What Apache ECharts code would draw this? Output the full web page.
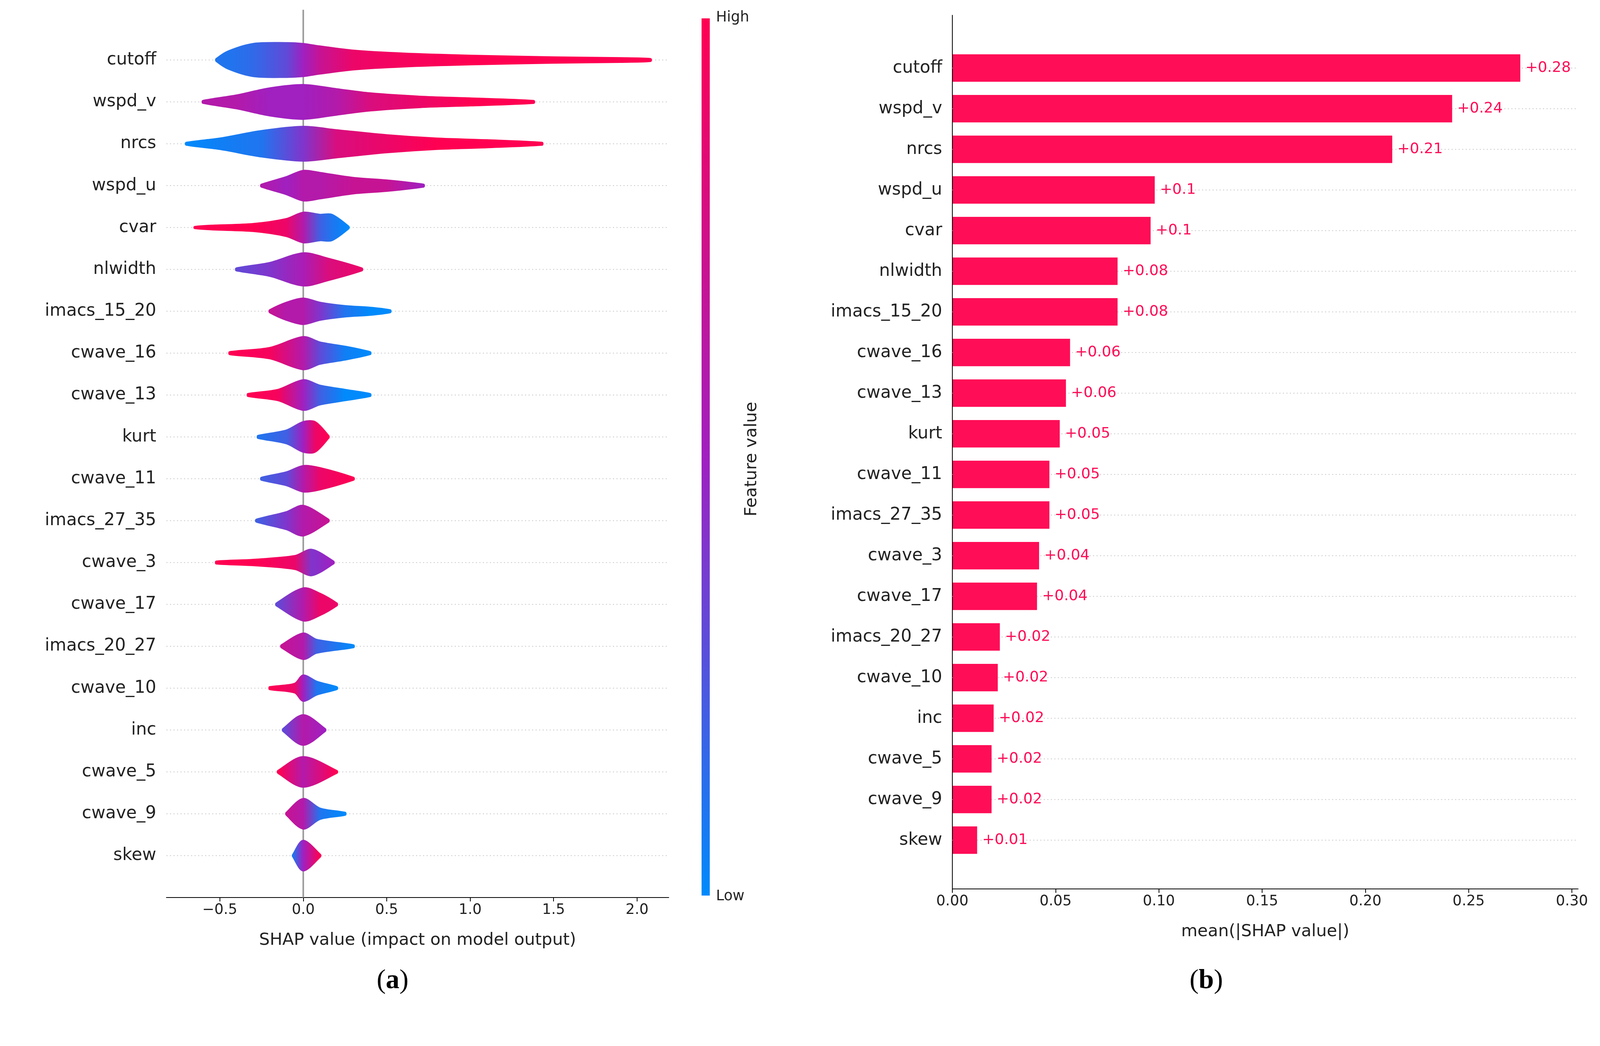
<!DOCTYPE html>
<html>
<head>
<meta charset="utf-8">
<script src="https://cdn.jsdelivr.net/npm/echarts@6/dist/echarts.min.js"></script>
<style>html,body{margin:0;padding:0;background:#fff;overflow:hidden}#chart{width:4257px;height:2677px}</style>
</head>
<body>
<div id="chart"></div>
<script>
// features, top to bottom
var features = ['cutoff','wspd_v','nrcs','wspd_u','cvar','nlwidth','imacs_15_20','cwave_16','cwave_13','kurt',
	'cwave_11','imacs_27_35','cwave_3','cwave_17','imacs_20_27','cwave_10','inc','cwave_5','cwave_9','skew'];
// mean |SHAP| per feature
var meanShap = [0.275,0.242,0.213,0.098,0.096,0.080,0.080,0.057,0.055,0.052,0.047,0.047,0.042,0.041,0.023,0.022,0.020,0.019,0.019,0.012];
var meanLabels = ['+0.28','+0.24','+0.21','+0.1','+0.1','+0.08','+0.08','+0.06','+0.06','+0.05','+0.05','+0.05','+0.04','+0.04','+0.02','+0.02','+0.02','+0.02','+0.02','+0.01'];
// swarm outline per feature: [shap value, half thickness (rows), feature value 0=low 1=high]
var swarms = [
	[[-0.52,0.02,0.1],[-0.45,0.2,0.1],[-0.3,0.38,0.15],[-0.1,0.4,0.3],[0.0,0.38,0.5],[0.1,0.32,0.7],[0.3,0.22,0.9],[0.6,0.15,0.95],[1.0,0.1,1],[1.5,0.06,1],[1.9,0.04,1],[2.08,0.02,1]],
	[[-0.6,0.02,0.6],[-0.4,0.15,0.6],[-0.2,0.32,0.5],[0,0.4,0.5],[0.2,0.3,0.6],[0.4,0.2,0.8],[0.7,0.12,0.9],[1.0,0.08,1],[1.38,0.02,1]],
	[[-0.7,0.02,0],[-0.5,0.12,0.05],[-0.25,0.3,0.1],[0,0.4,0.4],[0.2,0.32,0.8],[0.5,0.2,0.9],[0.8,0.12,1],[1.1,0.08,1],[1.43,0.02,1]],
	[[-0.25,0.02,0.6],[-0.1,0.2,0.5],[0,0.35,0.6],[0.1,0.3,0.6],[0.3,0.18,0.7],[0.5,0.12,0.7],[0.72,0.02,0.5]],
	[[-0.65,0.01,1],[-0.55,0.04,1],[-0.3,0.08,1],[-0.1,0.2,0.9],[0,0.35,0.6],[0.1,0.3,0.2],[0.17,0.3,0.1],[0.27,0.02,0]],
	[[-0.4,0.02,0.3],[-0.2,0.15,0.4],[0,0.38,0.55],[0.15,0.25,0.8],[0.35,0.02,0.9]],
	[[-0.2,0.02,0.7],[-0.1,0.2,0.6],[0,0.3,0.6],[0.1,0.2,0.4],[0.25,0.12,0.1],[0.4,0.08,0],[0.52,0.02,0]],
	[[-0.44,0.02,1],[-0.2,0.12,0.95],[0,0.38,0.6],[0.1,0.25,0.3],[0.25,0.15,0.05],[0.4,0.02,0]],
	[[-0.33,0.02,1],[-0.15,0.12,0.95],[0,0.35,0.5],[0.1,0.22,0.2],[0.25,0.12,0],[0.4,0.02,0]],
	[[-0.27,0.02,0.1],[-0.1,0.15,0.2],[0,0.35,0.5],[0.07,0.35,0.9],[0.15,0.02,1]],
	[[-0.25,0.02,0.2],[-0.1,0.15,0.3],[0,0.3,0.6],[0.1,0.25,0.9],[0.3,0.02,1]],
	[[-0.28,0.02,0.2],[-0.1,0.2,0.4],[0,0.35,0.6],[0.15,0.02,0.7]],
	[[-0.52,0.02,1],[-0.3,0.06,1],[-0.05,0.15,0.9],[0.05,0.3,0.4],[0.18,0.02,0.5]],
	[[-0.16,0.02,0.3],[0,0.38,0.6],[0.1,0.25,0.9],[0.2,0.02,0.9]],
	[[-0.13,0.02,0.7],[0,0.3,0.6],[0.08,0.15,0.2],[0.3,0.02,0]],
	[[-0.2,0.02,1],[-0.05,0.1,0.9],[0,0.3,0.5],[0.08,0.15,0.1],[0.2,0.02,0]],
	[[-0.12,0.02,0.3],[0,0.35,0.6],[0.13,0.02,0.5]],
	[[-0.15,0.02,1],[0,0.35,0.6],[0.2,0.02,1]],
	[[-0.1,0.02,0.7],[0,0.35,0.6],[0.1,0.12,0.1],[0.25,0.02,0]],
	[[-0.06,0.02,0.1],[0,0.35,0.5],[0.1,0.02,1]]
];
var shapTicks = [-0.5,0,0.5,1,1.5,2];

var LOW=[0,138,251], MID=[160,32,192], HIGH=[255,0,82];
function cmap(t){
	var a=t<0.5?LOW:MID, b=t<0.5?MID:HIGH, f=t<0.5?t*2:(t-0.5)*2;
	return 'rgb('+[0,1,2].map(function(k){return Math.round(a[k]+(b[k]-a[k])*f);}).join(',')+')';
}
var N = features.length;
var font = 'DejaVu Sans';
var chart = echarts.init(document.getElementById('chart'));

function rowLines(api, x0, x1){
	var out=[];
	for(var i=0;i<N;i++){
		var a=api.coord([x0,N-1-i]), b=api.coord([x1,N-1-i]);
		out.push({type:'line',shape:{x1:a[0],y1:a[1],x2:b[0],y2:b[1]},
			style:{stroke:'#cccccc',lineWidth:2,lineDash:[3,6]},silent:true});
	}
	return out;
}

var option = {
	animation:false,
	grid:[
		{left:426,top:25,width:1286,height:2272},
		{left:2438,top:39,width:1602,height:2236}
	],
	xAxis:[
		{gridIndex:0,type:'value',min:-0.82,max:2.19,interval:0.5,
			axisLine:{onZero:false,lineStyle:{color:'#000',width:2}},
			splitLine:{show:false},showMinLabel:false,showMaxLabel:false,
			axisLabel:{fontFamily:font,fontSize:37,color:'#222',margin:14,
				customValues:shapTicks,formatter:function(v){return (v<0?'\u2212':'')+Math.abs(v).toFixed(1);}},
			axisTick:{customValues:shapTicks,length:10,lineStyle:{color:'#000',width:2}},
			name:'SHAP value (impact on model output)',nameLocation:'middle',nameGap:88,
			nameTextStyle:{fontFamily:font,fontSize:43,color:'#222'}},
		{gridIndex:1,type:'value',min:0,max:0.303,interval:0.05,
			axisLine:{onZero:false,lineStyle:{color:'#000',width:2}},axisTick:{length:10,lineStyle:{color:'#000',width:2}},
			splitLine:{show:false},showMaxLabel:false,
			axisLabel:{fontFamily:font,fontSize:37,color:'#222',margin:14,formatter:function(v){return v.toFixed(2);}},
			name:'mean(|SHAP value|)',nameLocation:'middle',nameGap:88,
			nameTextStyle:{fontFamily:font,fontSize:43,color:'#222'}}
	],
	yAxis:[
		{gridIndex:0,type:'value',min:-1,max:20.2,interval:1,axisLine:{show:false},axisTick:{show:false},
			splitLine:{show:false},showMaxLabel:false,
			axisLabel:{fontFamily:font,fontSize:44,color:'#222',margin:26,
				formatter:function(v){var i=N-1-v;return (i>=0&&i<N&&v===Math.round(v))?features[i]:'';}}},
		{gridIndex:1,type:'value',min:-1.2,max:20.3,interval:1,axisLine:{show:true,onZero:false,lineStyle:{color:'#000',width:2}},
			axisTick:{show:false},splitLine:{show:false},showMaxLabel:false,showMinLabel:false,
			axisLabel:{fontFamily:font,fontSize:44,color:'#222',margin:26,
				customValues:features.map(function(f,i){return N-1-i;}),
				formatter:function(v){var i=N-1-v;return (i>=0&&i<N)?features[i]:'';}}}
	],
	series:[
		{ // beeswarm outlines
			type:'custom',xAxisIndex:0,yAxisIndex:0,clip:false,
			data:features.map(function(f,i){return [i];}),
			renderItem:function(params,api){
				var i=params.dataIndex, prof=swarms[i], y=N-1-i, kids=[];
				if(i===0){
					kids=kids.concat(rowLines(api,-0.82,2.19));
					var t=api.coord([0,20.2]), b=api.coord([0,-1]);
					kids.push({type:'line',shape:{x1:t[0],y1:t[1],x2:b[0],y2:b[1]},style:{stroke:'#999',lineWidth:4},z2:5});
				}
				var up=[],lo=[];
				prof.forEach(function(p){up.push(api.coord([p[0],y+p[1]]));lo.unshift(api.coord([p[0],y-p[1]]));});
				var x0=prof[0][0], x1=prof[prof.length-1][0];
				var stops=prof.map(function(p){return {offset:(p[0]-x0)/(x1-x0),color:cmap(p[2])};});
				var a=api.coord([x0,y]), c=api.coord([x1,y]);
				kids.push({type:'polygon',shape:{points:up.concat(lo),smooth:0.3},z2:10,
					style:{fill:new echarts.graphic.LinearGradient(a[0],0,c[0],0,stops,true),
						stroke:new echarts.graphic.LinearGradient(a[0],0,c[0],0,stops,true),lineWidth:6}});
				return {type:'group',children:kids};
			}
		},
		{ // mean |SHAP| bars
			type:'custom',xAxisIndex:1,yAxisIndex:1,clip:false,
			data:meanShap.map(function(v,i){return [v,N-1-i];}),
			renderItem:function(params,api){
				var i=params.dataIndex, v=api.value(0), y=api.value(1), kids=[];
				if(i===0) kids=kids.concat(rowLines(api,0,0.303));
				var p0=api.coord([0,y+0.3375]), p1=api.coord([v,y-0.3375]);
				kids.push({type:'rect',shape:{x:p0[0]+1,y:p0[1],width:p1[0]-p0[0]-1,height:p1[1]-p0[1]},style:{fill:'#ff0d57'},z2:10});
				var m=api.coord([v,y]);
				kids.push({type:'text',x:m[0]+13,y:m[1],z2:10,style:{text:meanLabels[i],fill:'#ff0d57',
					font:'38px "DejaVu Sans"',textVerticalAlign:'middle'}});
				return {type:'group',children:kids};
			}
		}
	],
	graphic:[
		{type:'rect',left:1796,top:47,shape:{width:21,height:2245},
			style:{fill:new echarts.graphic.LinearGradient(0,0,0,1,[
				{offset:0,color:cmap(1)},{offset:0.5,color:cmap(0.5)},{offset:1,color:cmap(0)}])}},
		{type:'text',left:1833,top:27,style:{text:'High',font:'37px "DejaVu Sans"',fill:'#222'}},
		{type:'text',left:1833,top:2276,style:{text:'Low',font:'37px "DejaVu Sans"',fill:'#222'}},
		{type:'text',x:1925,y:1175,rotation:Math.PI/2,
			style:{text:'Feature value',font:'43px "DejaVu Sans"',fill:'#222',textAlign:'center',textVerticalAlign:'middle'}},
		{type:'text',x:1005,y:2511,style:{rich:{p:{fontFamily:'Liberation Serif',fontSize:70,fill:'#000'},
			b:{fontFamily:'Liberation Serif',fontSize:70,fontWeight:'bold',fill:'#000'}},
			text:'{p|(}{b|a}{p|)}',textAlign:'center',textVerticalAlign:'middle'}},
		{type:'text',x:3088,y:2511,style:{rich:{p:{fontFamily:'Liberation Serif',fontSize:70,fill:'#000'},
			b:{fontFamily:'Liberation Serif',fontSize:70,fontWeight:'bold',fill:'#000'}},
			text:'{p|(}{b|b}{p|)}',textAlign:'center',textVerticalAlign:'middle'}}
	]
};
chart.setOption(option);
</script>
</body>
</html>
